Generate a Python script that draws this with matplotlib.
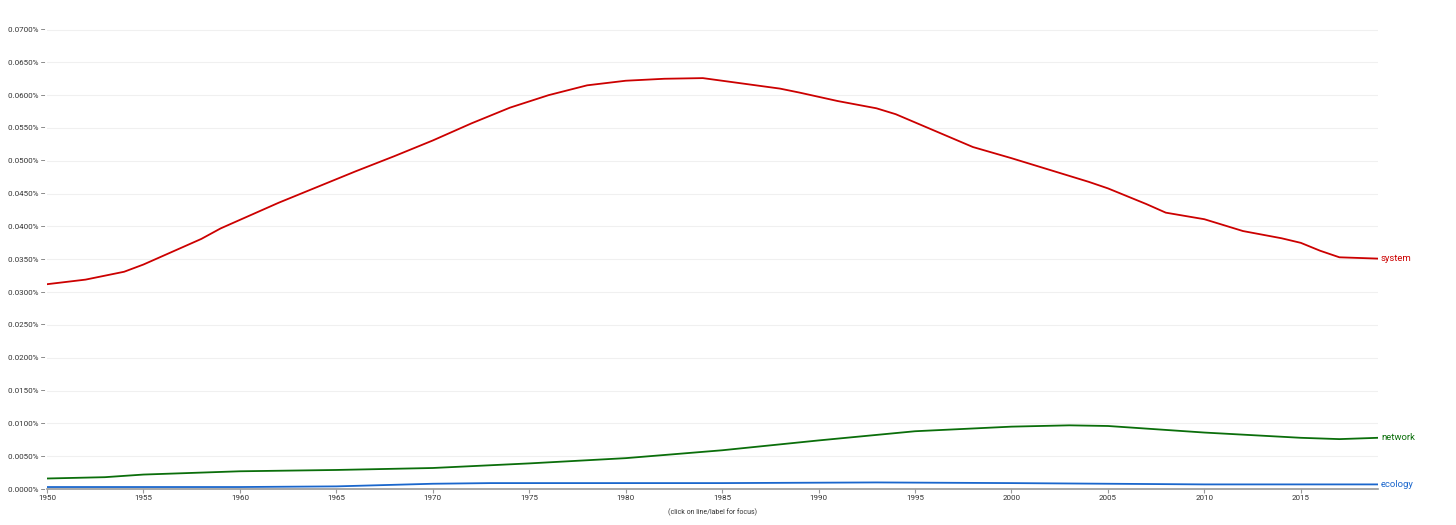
import matplotlib
matplotlib.use("Agg")
import matplotlib.pyplot as plt
from matplotlib.ticker import FuncFormatter

plt.rcParams['font.family'] = ['Roboto', 'DejaVu Sans']

# values (percent)
sys_years = [1950, 1952, 1954, 1955, 1956, 1958, 1959, 1960, 1962, 1964, 1966, 1968, 1970,
             1972, 1974, 1976, 1978, 1980, 1982, 1984, 1986, 1988, 1989, 1991, 1993, 1994,
             1996, 1998, 2000, 2002, 2004, 2005, 2007, 2008, 2010, 2012, 2014, 2015, 2016,
             2017, 2019]
system = [0.0312, 0.0319, 0.0331, 0.0342, 0.0355, 0.0381, 0.0397, 0.0410, 0.0436, 0.0460,
          0.0484, 0.0507, 0.0531, 0.0557, 0.0581, 0.0600, 0.0615, 0.0622, 0.0625, 0.0626,
          0.0618, 0.0610, 0.0604, 0.0591, 0.0580, 0.0571, 0.0546, 0.0521, 0.0504, 0.0486,
          0.0468, 0.0458, 0.0434, 0.0421, 0.0411, 0.0393, 0.0382, 0.0375, 0.0363, 0.0353,
          0.0351]

net_years = [1950, 1953, 1955, 1960, 1965, 1970, 1975, 1980, 1985, 1990, 1995, 2000,
             2003, 2005, 2010, 2015, 2017, 2019]
network = [0.0016, 0.0018, 0.0022, 0.0027, 0.0029, 0.0032, 0.0039, 0.0047, 0.0059, 0.0074,
           0.0088, 0.0095, 0.0097, 0.0096, 0.0086, 0.0078, 0.0076, 0.0078]

eco_years = [1950, 1960, 1965, 1970, 1973, 1980, 1985, 1993, 2000, 2010, 2019]
ecology = [0.0003, 0.0003, 0.0004, 0.0008, 0.0009, 0.0009, 0.0009, 0.0010, 0.0009, 0.0007, 0.0007]

series = [("system", sys_years, system, "#cc0000"),
          ("network", net_years, network, "#0a6e0a"),
          ("ecology", eco_years, ecology, "#1a66cc")]

fig = plt.figure(figsize=(14.56, 5.25), dpi=100)
ax = fig.add_axes([47 / 1456, 36 / 525, (1378 - 47) / 1456, 489 / 525])

for name, x, y, c in series:
    ax.plot(x, y, color=c, lw=1.3)
    ax.text(2019.15, y[-1], name, color=c, fontsize=6.8, va="center", ha="left")

ax.set_xlim(1950, 2019)
ax.set_ylim(0, 0.0745)
ax.set_yticks([i * 0.005 for i in range(15)])
ax.yaxis.set_major_formatter(FuncFormatter(lambda v, p: "%.4f%% \u2013" % v))
ax.set_xticks(range(1950, 2016, 5))
ax.tick_params(axis="y", length=0, labelsize=5.8, labelcolor="#333333", pad=1)
ax.tick_params(axis="x", length=3, color="#999999", labelsize=5.8, labelcolor="#333333", pad=1)
ax.grid(axis="y", color="#f0f0f0", lw=0.8)
ax.set_axisbelow(True)
for s in ["top", "right", "left"]:
    ax.spines[s].set_visible(False)
ax.spines["bottom"].set_color("#999999")
ax.spines["bottom"].set_linewidth(1.2)

fig.text(712 / 1456, 1 - 512 / 525, "(click on line/label for focus)", fontsize=5,
         color="#333333", ha="center", va="center")

fig.savefig("out.png", dpi=100)
